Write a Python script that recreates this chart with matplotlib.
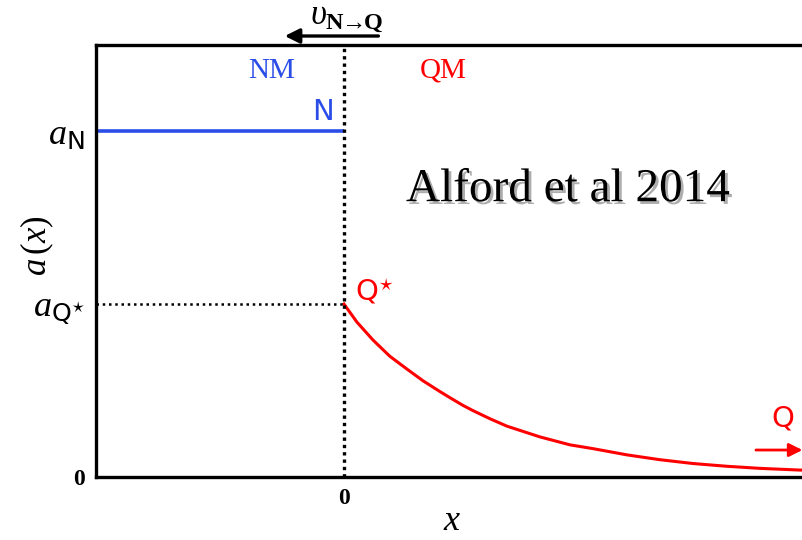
import numpy as np
import matplotlib
matplotlib.use("Agg")
import matplotlib.pyplot as plt
import matplotlib.patheffects as pe

plt.rcParams['mathtext.fontset'] = 'custom'
plt.rcParams['mathtext.rm'] = 'Liberation Serif'
plt.rcParams['mathtext.it'] = 'Liberation Serif:italic'
plt.rcParams['mathtext.bf'] = 'Liberation Serif:bold'
plt.rcParams['mathtext.sf'] = 'DejaVu Sans'
plt.rcParams['font.family'] = ['DejaVu Sans']

# levels on the a(x) axis
a_N = 1.0
a_Qstar = 0.5

# NM side: flat at a_N up to the interface
x_nm = [-1.0, 0.0]
y_nm = [a_N, a_N]

# QM side: decay
x_qm = [0.0, 0.052, 0.117, 0.185, 0.254, 0.319, 0.387, 0.435, 0.480, 0.520, 0.590,
        0.657, 0.790, 0.911, 1.004, 1.141, 1.274, 1.407, 1.544, 1.677, 1.839, 1.86]
y_qm = [0.500, 0.448, 0.396, 0.349, 0.312, 0.278, 0.247, 0.226, 0.207, 0.192, 0.168,
        0.147, 0.116, 0.093, 0.082, 0.064, 0.050, 0.039, 0.031, 0.025, 0.020, 0.020]

ytick_pos = [0, a_Qstar, a_N]
ytick_lab = ['0', r'$a_{\mathsf{Q}^{\star}}$', r'$a_{\mathsf{N}}$']

blue = '#2a4de8'
red = '#ff0000'

fig = plt.figure(figsize=(8.02, 5.40), dpi=100)
ax = fig.add_axes([96 / 802, 63 / 540, 1 - 96 / 802, 432 / 540])
ax.set_xlim(-1.0, 1.847)
ax.set_ylim(0, 1.249)

ax.plot(x_nm, y_nm, color=blue, lw=2.6, solid_capstyle='butt')
ax.plot(x_qm, y_qm, color=red, lw=2.2, solid_joinstyle='round')

# interface and a_Q* guide
ax.plot([0, 0], [0, 1.249], color='black', lw=2.4, ls=(0, (1, 1.2)))
ax.plot([-1.0, 0], [a_Qstar, a_Qstar], color='black', lw=1.8, ls=(0, (1, 1.5)))

for side in ['left', 'bottom', 'top']:
    ax.spines[side].set_linewidth(2.4)
ax.spines['right'].set_visible(False)

ax.set_yticks(ytick_pos)
ax.set_yticklabels(ytick_lab)
ax.set_xticks([0])
ax.set_xticklabels(['0'])
ax.tick_params(length=0, pad=8)
for lab in ax.get_yticklabels():
    lab.set_fontsize(26)
ax.get_yticklabels()[0].set_fontsize(17)
ax.get_yticklabels()[0].set_family('Liberation Serif')
ax.get_yticklabels()[0].set_weight('bold')
for lab in ax.get_xticklabels():
    lab.set_fontsize(17)
    lab.set_family('Liberation Serif')
    lab.set_weight('bold')

ax.set_ylabel(r'$a\,(x)$', fontsize=25)
ax.yaxis.label.set_va('center')
ax.yaxis.set_label_coords(-0.083, 0.535)
ax.set_xlabel(r'$x$', fontsize=26)
ax.xaxis.label.set_va('center')
ax.xaxis.set_label_coords(0.504, -0.1)

# labels inside
ax.text(-0.29, 1.175, 'NM', color=blue, fontsize=21, family='Liberation Serif',
        ha='center', va='center')
ax.text(0.40, 1.175, 'QM', color=red, fontsize=21, family='Liberation Serif',
        ha='center', va='center')
ax.text(-0.085, a_N + 0.055, 'N', color=blue, fontsize=21, ha='center', va='center')
ax.text(0.045, a_Qstar + 0.035, r'Q$^{\star}$', color=red, fontsize=21, ha='left', va='center')
ax.text(1.77, 0.17, 'Q', color=red, fontsize=21, ha='center', va='center')
ax.annotate('', xy=(1.86, 0.078), xytext=(1.65, 0.078),
            arrowprops=dict(arrowstyle='-|>', color=red, lw=2, mutation_scale=20),
            annotation_clip=False)

ax.text(0.905, 0.83, 'Alford et al 2014', fontsize=34, family='Liberation Serif',
        ha='center', va='center',
        path_effects=[pe.withSimplePatchShadow(offset=(2, -2), shadow_rgbFace='#999999', alpha=0.8)])

# velocity arrow above the frame
ax.annotate('', xy=(-0.25, 1.275), xytext=(0.15, 1.275),
            arrowprops=dict(arrowstyle='-|>', color='black', lw=2.4, mutation_scale=22),
            annotation_clip=False)
ax.text(0.01, 1.33, r'$\upsilon_{\mathbf{N}\!\!\rightarrow\!\!\mathbf{Q}}$', fontsize=25,
        ha='center', va='center', clip_on=False)

fig.savefig('out.png', dpi=100)
